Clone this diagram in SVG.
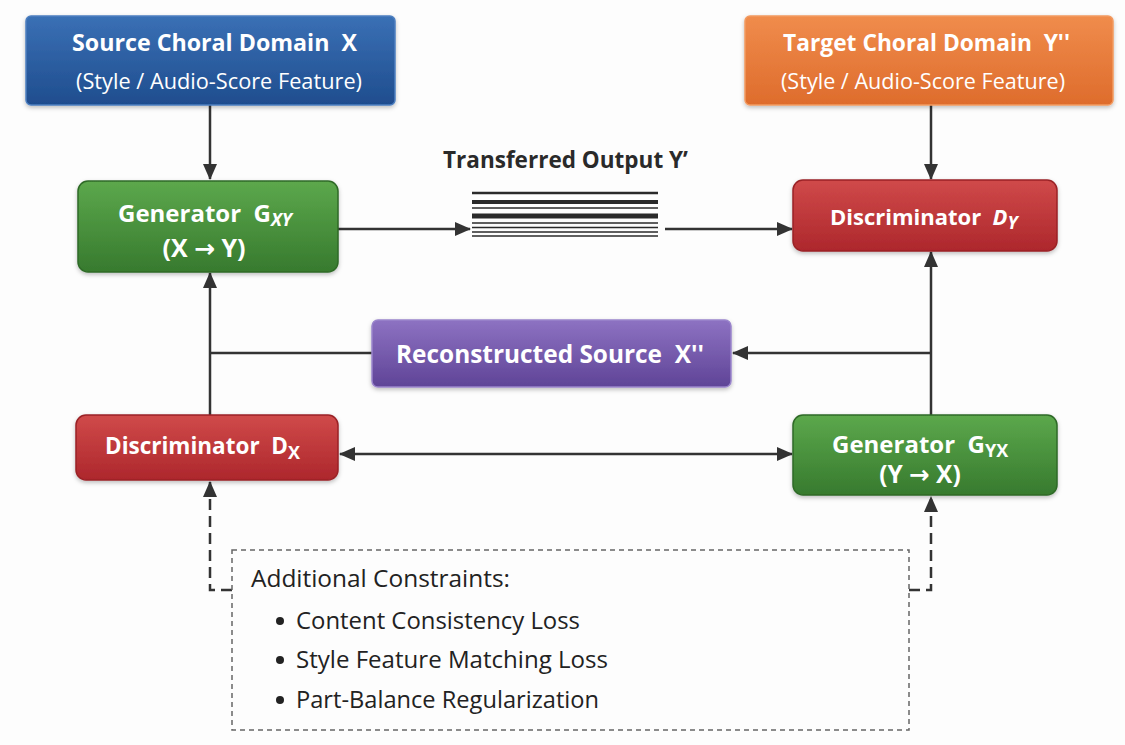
<svg xmlns="http://www.w3.org/2000/svg" width="1125" height="745" viewBox="0 0 1125 745">
<defs>
<linearGradient id="gBlue" x1="0" y1="0" x2="0" y2="1"><stop offset="0" stop-color="#3a70b5"/><stop offset="1" stop-color="#1f4d8e"/></linearGradient>
<linearGradient id="gOrange" x1="0" y1="0" x2="0" y2="1"><stop offset="0" stop-color="#f08c4c"/><stop offset="1" stop-color="#de6c2c"/></linearGradient>
<linearGradient id="gGreen" x1="0" y1="0" x2="0" y2="1"><stop offset="0" stop-color="#5ca84c"/><stop offset="1" stop-color="#377a2e"/></linearGradient>
<linearGradient id="gRed" x1="0" y1="0" x2="0" y2="1"><stop offset="0" stop-color="#d04a4a"/><stop offset="1" stop-color="#ad272c"/></linearGradient>
<linearGradient id="gPurple" x1="0" y1="0" x2="0" y2="1"><stop offset="0" stop-color="#8d72c2"/><stop offset="1" stop-color="#5f4497"/></linearGradient>
<filter id="sh" x="-10%" y="-10%" width="120%" height="130%"><feDropShadow dx="0" dy="2" stdDeviation="2" flood-color="#000" flood-opacity="0.25"/></filter>
<marker id="ah" markerUnits="userSpaceOnUse" markerWidth="16" markerHeight="14" refX="15" refY="7" orient="auto-start-reverse"><path d="M0,0 L16,7 L0,14 z" fill="#333"/></marker>
</defs>
<style>
.box{filter:url(#sh);}
.t{font-family:"Open Sans","Noto Sans","Liberation Sans",sans-serif;fill:#fff;white-space:pre;}
.b{font-weight:bold;}
.sub{font-size:18px;}
.ar{font-family:"DejaVu Sans",sans-serif;}
.c{fill:none;stroke:#333;stroke-width:2.5;}
.d{fill:none;stroke:#333;stroke-width:2.5;stroke-dasharray:11,6;}
.k{font-family:"Open Sans","Noto Sans","Liberation Sans",sans-serif;fill:#222;}
</style>
<rect width="1125" height="745" fill="#fdfdfd"/>

<g id="connectors">
<line class="c" x1="210" y1="105" x2="210" y2="179" marker-end="url(#ah)"/>
<line class="c" x1="931" y1="105" x2="931" y2="179" marker-end="url(#ah)"/>
<line class="c" x1="338" y1="229" x2="470" y2="229" marker-end="url(#ah)"/>
<line class="c" x1="665" y1="229" x2="792" y2="229" marker-end="url(#ah)"/>
<line class="c" x1="931" y1="415" x2="931" y2="252" marker-end="url(#ah)"/>
<line class="c" x1="931" y1="353" x2="733" y2="353" marker-end="url(#ah)"/>
<line class="c" x1="210" y1="415" x2="210" y2="273" marker-end="url(#ah)"/>
<line class="c" x1="372" y1="353" x2="210" y2="353"/>
<line class="c" x1="340" y1="454" x2="792" y2="454" marker-start="url(#ah)" marker-end="url(#ah)"/>
<path class="d" d="M232,590 H210 V482" marker-end="url(#ah)"/>
<path class="d" d="M909,590 H931 V497" marker-end="url(#ah)"/>
</g>

<g id="source">
<rect class="box" x="26" y="16" width="369" height="89" rx="5" fill="url(#gBlue)" stroke="#4d7fc0" stroke-width="1.5"/>
<text class="t b" x="72" y="51" style="font-size:23px" textLength="285" lengthAdjust="spacingAndGlyphs">Source Choral Domain  X</text>
<text class="t" x="76" y="89" style="font-size:22px" textLength="286" lengthAdjust="spacingAndGlyphs">(Style / Audio-Score Feature)</text>
</g>

<g id="target">
<rect class="box" x="745" y="16" width="368" height="89" rx="5" fill="url(#gOrange)" stroke="#f29a60" stroke-width="1.5"/>
<text class="t b" x="783" y="51" style="font-size:23px" textLength="287" lengthAdjust="spacingAndGlyphs">Target Choral Domain  Y''</text>
<text class="t" x="781" y="89" style="font-size:22px" textLength="284" lengthAdjust="spacingAndGlyphs">(Style / Audio-Score Feature)</text>
</g>

<g id="gxy">
<rect class="box" x="78" y="181" width="260" height="91" rx="10" fill="url(#gGreen)" stroke="#2f6a27" stroke-width="1.5"/>
<text class="t b" x="118" y="222" style="font-size:24px">Generator  G<tspan class="sub" dy="4" font-style="italic">XY</tspan></text>
<text class="t b" x="204" y="257" style="font-size:25px" text-anchor="middle">(X <tspan class="ar">→</tspan> Y)</text>
</g>

<g id="output">
<text x="443" y="168" style="font-family:'Open Sans','Noto Sans','Liberation Sans',sans-serif;font-size:22.4px;font-weight:bold;fill:#2a2a2a" textLength="245" lengthAdjust="spacingAndGlyphs">Transferred Output Y’</text>
<g stroke="#2a2a2a">
<line x1="472" y1="193" x2="658" y2="193" stroke-width="2.5"/>
<line x1="472" y1="202" x2="658" y2="202" stroke-width="4"/>
<line x1="472" y1="208" x2="658" y2="208" stroke-width="1.5"/>
<line x1="472" y1="216" x2="658" y2="216" stroke-width="5"/>
<line x1="472" y1="223" x2="658" y2="223" stroke-width="1.5"/>
<line x1="472" y1="227.5" x2="658" y2="227.5" stroke-width="1.5"/>
<line x1="472" y1="232" x2="658" y2="232" stroke-width="1.5"/>
<line x1="472" y1="236" x2="658" y2="236" stroke-width="1.5"/>
</g>
</g>

<g id="dy">
<rect class="box" x="793" y="180" width="264" height="71" rx="10" fill="url(#gRed)" stroke="#9a2226" stroke-width="1.5"/>
<text class="t b" x="830" y="225" style="font-size:22px">Discriminator  <tspan font-style="italic">D</tspan><tspan class="sub" dy="4" font-style="italic">Y</tspan></text>
</g>

<g id="recon">
<rect class="box" x="372" y="320" width="359" height="67" rx="6" fill="url(#gPurple)" stroke="#9a85cc" stroke-width="1.5"/>
<text class="t b" x="396" y="363" style="font-size:24.5px" textLength="308" lengthAdjust="spacingAndGlyphs">Reconstructed Source  X''</text>
</g>

<g id="dx">
<rect class="box" x="76" y="415" width="262" height="65" rx="10" fill="url(#gRed)" stroke="#9a2226" stroke-width="1.5"/>
<text class="t b" x="105" y="454" style="font-size:22.5px">Discriminator  D<tspan class="sub" dy="5">X</tspan></text>
</g>

<g id="gyx">
<rect class="box" x="793" y="415" width="264" height="80" rx="10" fill="url(#gGreen)" stroke="#2f6a27" stroke-width="1.5"/>
<text class="t b" x="832" y="453" style="font-size:24px">Generator  G<tspan class="sub" dy="4">YX</tspan></text>
<text class="t b" x="920" y="483" style="font-size:24.5px" text-anchor="middle">(Y <tspan class="ar">→</tspan> X)</text>
</g>

<g id="constraints">
<rect x="232" y="550" width="677" height="180" fill="none" stroke="#666" stroke-width="1.5" stroke-dasharray="5,4"/>
<text class="k" x="251" y="587" style="font-size:24.5px" textLength="259" lengthAdjust="spacingAndGlyphs">Additional Constraints:</text>
<circle cx="280" cy="621" r="4" fill="#222"/>
<text class="k" x="296" y="629" style="font-size:24px" textLength="284" lengthAdjust="spacingAndGlyphs">Content Consistency Loss</text>
<circle cx="280" cy="660" r="4" fill="#222"/>
<text class="k" x="296" y="668" style="font-size:24px" textLength="312" lengthAdjust="spacingAndGlyphs">Style Feature Matching Loss</text>
<circle cx="280" cy="700" r="4" fill="#222"/>
<text class="k" x="296" y="708" style="font-size:24px" textLength="303" lengthAdjust="spacingAndGlyphs">Part-Balance Regularization</text>
</g>
</svg>
